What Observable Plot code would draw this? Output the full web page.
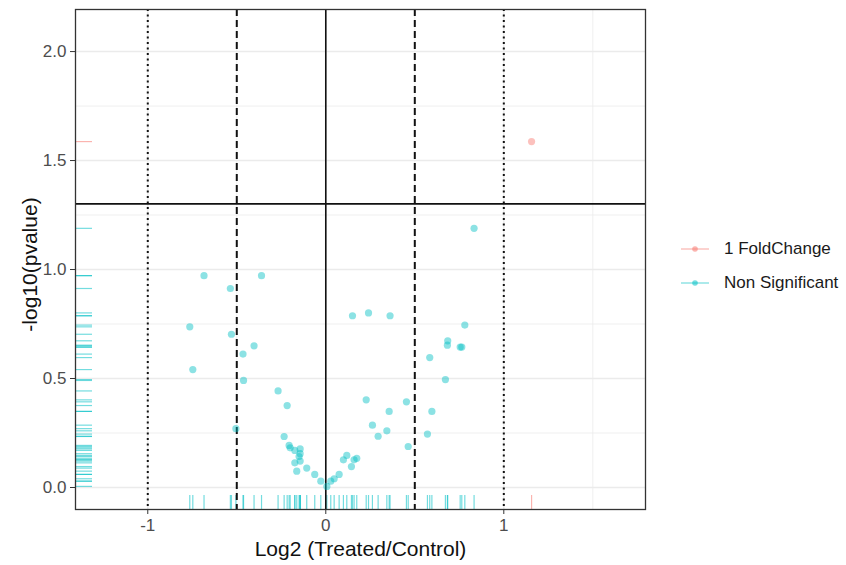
<!DOCTYPE html>
<html>
<head>
<meta charset="utf-8">
<script src="https://cdn.jsdelivr.net/npm/d3@7"></script>
<script src="https://cdn.jsdelivr.net/npm/@observablehq/plot@0.6"></script>
<style>
  html, body { margin: 0; padding: 0; background: #fff; }
  #wrap { position: relative; width: 846px; height: 565px; font-family: "Liberation Sans", Arial, sans-serif; }
  #legend { position: absolute; left: 680px; top: 232px; font-size: 17px; color: #1a1a1a; }
  .item { display: flex; align-items: center; height: 34px; }
  .item svg { margin-right: 14px; }
</style>
</head>
<body>
<div id="wrap"><div id="legend"></div></div>
<script>
// ---- data ----
const groups = ["1 FoldChange", "Non Significant"];
const groupColors = ["#F8766D", "#00BFC4"];

const fcLog2FC = [1.156];
const fcNegLogP = [1.587];

const nsLog2FC = [
  -0.684, -0.361, -0.536, -0.764, -0.530, -0.403, -0.465, -0.747, -0.462, -0.268,
  -0.217, -0.234, -0.206, -0.200, -0.174, -0.144, -0.144, -0.150, -0.174, -0.144,
  -0.163, -0.107, -0.062, -0.028, 0.006, 0.028, 0.047, 0.075, 0.099, 0.118,
  0.144, 0.159, 0.174, 0.150, 0.240, 0.361, 0.227, 0.262, 0.294, 0.343,
  0.356, 0.453, 0.463, 0.571, 0.596, 0.584, 0.672, 0.683, 0.685, 0.755,
  0.764, 0.781, 0.833, -0.505
];
const nsNegLogP = [
  0.972, 0.972, 0.913, 0.737, 0.703, 0.650, 0.612, 0.541, 0.491, 0.443,
  0.376, 0.234, 0.193, 0.182, 0.170, 0.177, 0.155, 0.142, 0.113, 0.121,
  0.075, 0.089, 0.060, 0.029, 0.005, 0.029, 0.040, 0.060, 0.127, 0.147,
  0.096, 0.127, 0.134, 0.788, 0.801, 0.788, 0.402, 0.286, 0.235, 0.260,
  0.349, 0.393, 0.188, 0.245, 0.349, 0.596, 0.495, 0.653, 0.673, 0.644,
  0.644, 0.745, 1.189, 0.270
];

const pCutoff = 0.05;
const dashedCuts = [-0.5, 0.5];
const dottedCuts = [-1, 1];
const xTicks = [-1, 0, 1];
const xTickLabels = ["-1", "0", "1"];
const xMinor = [-0.5, 0.5, 1.5];
const yTicks = [0, 0.5, 1, 1.5, 2];
const yTickLabels = ["0.0", "0.5", "1.0", "1.5", "2.0"];
const yMinor = [0.25, 0.75, 1.25, 1.75];
const xDomain = [-1.406, 1.796];
const yDomain = [-0.101, 2.193];

// ---- build table ----
const rows = [];
fcLog2FC.forEach((v, i) => rows.push({x: v, y: fcNegLogP[i], g: groups[0]}));
nsLog2FC.forEach((v, i) => rows.push({x: v, y: nsNegLogP[i], g: groups[1]}));
const colorOf = g => groupColors[groups.indexOf(g)];

const W = 846, H = 565, mL = 75, mR = 201, mT = 9, mB = 56;
const innerW = W - mL - mR, innerH = H - mT - mB;
const font = "'Liberation Sans', Arial, sans-serif";

const chart = Plot.plot({
  width: W, height: H,
  marginLeft: mL, marginRight: mR, marginTop: mT, marginBottom: mB,
  style: {fontFamily: font, background: "#fff", overflow: "visible"},
  x: {domain: xDomain},
  y: {domain: yDomain},
  marks: [
    Plot.gridX(xMinor, {stroke: "#ebebeb", strokeOpacity: 1, strokeWidth: 0.8}),
    Plot.gridY(yMinor, {stroke: "#ebebeb", strokeOpacity: 1, strokeWidth: 0.8}),
    Plot.gridX(xTicks, {stroke: "#ebebeb", strokeOpacity: 1, strokeWidth: 1.4}),
    Plot.gridY(yTicks, {stroke: "#ebebeb", strokeOpacity: 1, strokeWidth: 1.4}),
    // rugs
    Plot.ruleX(rows, {x: "x", stroke: d => colorOf(d.g), strokeOpacity: 0.55, strokeWidth: 1.2, insetTop: innerH - 14}),
    Plot.ruleY(rows, {y: "y", stroke: d => colorOf(d.g), strokeOpacity: 0.55, strokeWidth: 1.2, insetRight: innerW - 17}),
    // reference lines
    Plot.ruleX(dottedCuts, {stroke: "#111", strokeWidth: 2, strokeDasharray: "2,3.5"}),
    Plot.ruleX(dashedCuts, {stroke: "#111", strokeWidth: 2, strokeDasharray: "7,4"}),
    Plot.ruleX([0], {stroke: "#111", strokeWidth: 1.6}),
    Plot.ruleY([-Math.log10(pCutoff)], {stroke: "#111", strokeWidth: 1.6}),
    // points
    Plot.dot(rows, {x: "x", y: "y", r: 3.6, fill: d => colorOf(d.g), fillOpacity: 0.45, stroke: "none"}),
    Plot.frame({stroke: "#333", strokeWidth: 1.3}),
    Plot.axisX(xTicks, {tickSize: 5, tickPadding: 4, fontSize: 17, color: "#4d4d4d", stroke: "#333", label: null, tickFormat: (d, i) => xTickLabels[xTicks.indexOf(d)]}),
    Plot.axisY(yTicks, {tickSize: 5, tickPadding: 4, fontSize: 17, color: "#4d4d4d", stroke: "#333", label: null, tickFormat: (d, i) => yTickLabels[yTicks.indexOf(d)]}),
    Plot.text(["Log2 (Treated/Control)"], {frameAnchor: "bottom", dy: 40, lineAnchor: "middle", fontSize: 21, fill: "#111"}),
    Plot.text(["-log10(pvalue)"], {frameAnchor: "left", dx: -45, dy: 5, rotate: -90, fontSize: 21, fill: "#111", textAnchor: "middle"})
  ]
});
document.getElementById("wrap").prepend(chart);

// legend
const legend = document.getElementById("legend");
groups.forEach((g, i) => {
  const item = document.createElement("div");
  item.className = "item";
  item.innerHTML = `<svg width="30" height="12"><line x1="1" x2="29" y1="6" y2="6" stroke="${groupColors[i]}" stroke-opacity="0.5" stroke-width="1.3"/><circle cx="15" cy="6" r="2.8" fill="${groupColors[i]}" fill-opacity="0.55"/></svg><span>${g}</span>`;
  legend.appendChild(item);
});
</script>
</body>
</html>
